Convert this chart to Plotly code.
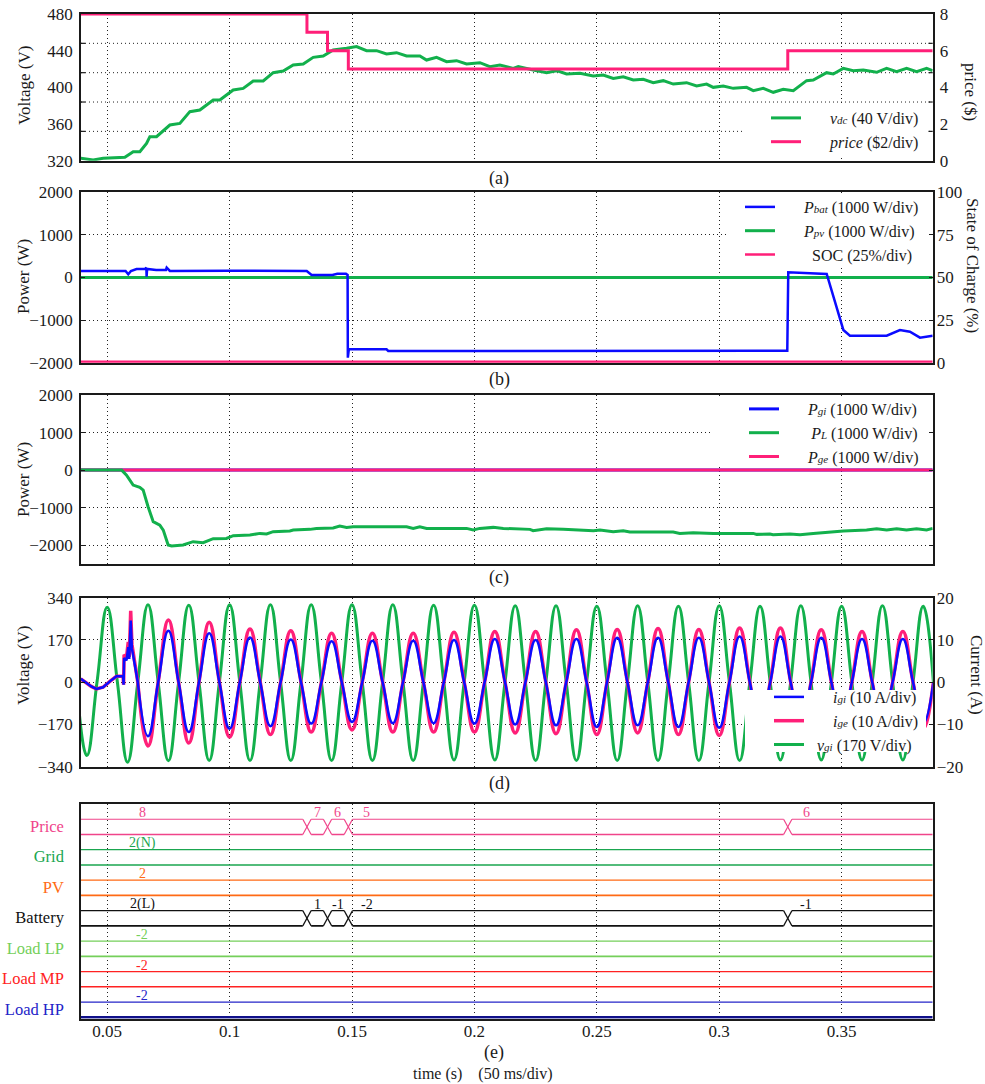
import plotly.graph_objects as go

# ---------------------------------------------------------------- data
T_MIN, T_MAX = 0.0393, 0.3872          # time window (s)

# (a) DC-link voltage (V) and electricity price ($)
vdc_t = [0.03924, 0.04428, 0.04837, 0.05722, 0.06062, 0.06334, 0.06607, 0.06743, 0.07015, 0.07560,
         0.07968, 0.08377, 0.08785, 0.09330, 0.09602, 0.10147, 0.10556, 0.10964, 0.11373, 0.11781,
         0.12190, 0.12598, 0.13007, 0.13415, 0.13824, 0.14232, 0.14777, 0.15185, 0.15594, 0.16002,
         0.16411, 0.16819, 0.17228, 0.17773, 0.18045, 0.18453, 0.18862, 0.19270, 0.19679, 0.20224,
         0.20632, 0.21041, 0.21587, 0.21791, 0.22404, 0.22948, 0.23357, 0.23765, 0.24310, 0.24855,
         0.25263, 0.25672, 0.26080, 0.26489, 0.26897, 0.27306, 0.27714, 0.28123, 0.28667, 0.29076,
         0.29484, 0.29757, 0.30165, 0.30574, 0.31118, 0.31391, 0.31799, 0.32208, 0.32616, 0.33025,
         0.33569, 0.33841, 0.34386, 0.34658, 0.35067, 0.35475, 0.35884, 0.36428, 0.36837, 0.37246,
         0.37654, 0.38063, 0.38471, 0.38716]
vdc = [322.6, 320.8, 322.6, 323.7, 329.8, 329.8, 338.9, 346.2, 346.2, 358.9,
       360.7, 373.5, 375.3, 386.2, 386.2, 397.1, 398.9, 406.9, 406.9, 416.0,
       417.8, 424.4, 425.5, 432.7, 434.2, 440.7, 442.6, 444.4, 440.0, 440.0,
       436.4, 437.8, 434.2, 434.2, 429.8, 432.7, 428.0, 429.1, 425.5, 426.9,
       422.6, 424.4, 420.7, 422.6, 418.9, 416.0, 418.2, 414.6, 415.3, 412.4,
       413.5, 409.8, 411.6, 408.0, 408.7, 405.1, 407.3, 403.6, 405.1, 401.5,
       403.6, 400.0, 401.5, 398.9, 400.0, 396.4, 398.9, 394.6, 397.8, 396.4,
       407.3, 408.0, 416.0, 414.6, 420.7, 418.2, 418.9, 416.4, 420.7, 417.1,
       420.7, 417.1, 420.7, 418.2]
price_t = [0.0393, 0.1316, 0.1400, 0.1485, 0.3280, 0.3872]
price = [8, 7, 6, 5, 6, 6]

# (b) battery and PV power (W), battery state of charge (%)
pbat_t = [0.0393, 0.0575, 0.0586, 0.0597, 0.0620, 0.0655, 0.0660, 0.0661, 0.0663, 0.0700,
          0.0740, 0.0743, 0.0750, 0.0756, 0.1000, 0.1300, 0.1315, 0.1335, 0.1420, 0.1440,
          0.1475, 0.1482, 0.1483, 0.1487, 0.1641, 0.1648, 0.2500, 0.3278, 0.3282, 0.3439,
          0.3507, 0.3534, 0.3684, 0.3738, 0.3779, 0.3820, 0.3872]
pbat = [153, 153, 75, 153, 200, 200, 230, 19, 200, 176,
        176, 230, 176, 153, 160, 153, 153, 59, 59, 90,
        90, 59, -1882, -1685, -1685, -1725, -1718, -1718, 122, 82,
        -1232, -1365, -1365, -1232, -1272, -1412, -1365]
ppv_t = [0.0393, 0.3872]
ppv = [0, 0]
soc_t = [0.0393, 0.3872]
soc = [0.6, 0.6]

# (c) grid-interface power, load power and grid-exchange power (W)
pgi_t = [0.0393, 0.3872]
pgi = [0, 0]
pge_t = [0.0393, 0.3872]
pge = [0, 0]
pl_t = [0.0392, 0.0559, 0.0579, 0.0606, 0.0633, 0.0647, 0.0667, 0.0688, 0.0715, 0.0729,
        0.0749, 0.0763, 0.0810, 0.0851, 0.0892, 0.0933, 0.0987, 0.1015, 0.1083, 0.1124,
        0.1151, 0.1178, 0.1246, 0.1260, 0.1328, 0.1355, 0.1423, 0.1450, 0.1478, 0.1505,
        0.1723, 0.1750, 0.1777, 0.1805, 0.1968, 0.1995, 0.2022, 0.2077, 0.2118, 0.2227,
        0.2240, 0.2295, 0.2363, 0.2486, 0.2513, 0.2567, 0.2608, 0.2635, 0.2812, 0.2839,
        0.2894, 0.2976, 0.3139, 0.3153, 0.3207, 0.3220, 0.3289, 0.3330, 0.3384, 0.3439,
        0.3507, 0.3602, 0.3643, 0.3684, 0.3725, 0.3765, 0.3806, 0.3847, 0.3872]
pl = [0, 0, -133, -399, -461, -532, -975, -1374, -1463, -1596,
      -1995, -2022, -1995, -1906, -1933, -1827, -1818, -1747, -1729, -1685,
      -1702, -1640, -1623, -1596, -1578, -1552, -1543, -1490, -1525, -1507,
      -1507, -1552, -1507, -1552, -1552, -1596, -1552, -1525, -1552, -1578,
      -1614, -1561, -1578, -1614, -1596, -1640, -1614, -1649, -1649, -1685,
      -1667, -1685, -1685, -1711, -1702, -1720, -1702, -1720, -1685, -1649,
      -1623, -1596, -1561, -1596, -1561, -1596, -1561, -1596, -1552]

# (d) grid voltage (V) and currents (A): peaks, troughs and zero crossings
wave_t = [0.0375, 0.04167, 0.04583, 0.05, 0.05417, 0.05833, 0.0625, 0.06667, 0.07083, 0.075,
          0.07917, 0.08333, 0.0875, 0.09167, 0.09583, 0.1, 0.10417, 0.10833, 0.1125, 0.11667,
          0.12083, 0.125, 0.12917, 0.13333, 0.1375, 0.14167, 0.14583, 0.15, 0.15417, 0.15833,
          0.1625, 0.16667, 0.17083, 0.175, 0.17917, 0.18333, 0.1875, 0.19167, 0.19583, 0.2,
          0.20417, 0.20833, 0.2125, 0.21667, 0.22083, 0.225, 0.22917, 0.23333, 0.2375, 0.24167,
          0.24583, 0.25, 0.25417, 0.25833, 0.2625, 0.26667, 0.27083, 0.275, 0.27917, 0.28333,
          0.2875, 0.29167, 0.29583, 0.3, 0.30417, 0.30833, 0.3125, 0.31667, 0.32083, 0.325,
          0.32917, 0.33333, 0.3375, 0.34167, 0.34583, 0.35, 0.35417, 0.35833, 0.3625, 0.36667,
          0.37083, 0.375, 0.37917, 0.38333, 0.3875]
vgi = [0, -295, 0, 302, 0, -322, 0, 312, 0, -316,
       0, 310, 0, -315, 0, 312, 0, -315, 0, 312,
       0, -315, 0, 312, 0, -315, 0, 312, 0, -315,
       0, 312, 0, -315, 0, 310, 0, -313, 0, 310,
       0, -313, 0, 308, 0, -315, 0, 308, 0, -315,
       0, 306, 0, -315, 0, 308, 0, -315, 0, 306,
       0, -315, 0, 308, 0, -315, 0, 306, 0, -313,
       0, 308, 0, -313, 0, 306, 0, -313, 0, 308,
       0, -313, 0, 306, 0]
igi = [None, None, None, None, None, None, 0, -12.8, 0, 12.2,
       0, -11.8, 0, 11.6, 0, -11.0, 0, 10.6, 0, -10.4,
       0, 10.1, 0, -9.8, 0, 9.7, 0, -9.4, 0, 9.8,
       0, -9.7, 0, 9.8, 0, -9.7, 0, 10.0, 0, -9.8,
       0, 10.2, 0, -10.0, 0, 10.0, 0, -10.2, 0, 10.2,
       0, -10.6, 0, 10.5, 0, -10.2, 0, 10.5, 0, -10.6,
       0, 10.5, 0, -10.8, 0, 10.8, 0, -10.5, 0, 10.8,
       0, -10.5, 0, 10.5, 0, -10.3, 0, 10.2, 0, -10.0,
       0, 10.2, 0, -9.8, 0]
ige = [None, None, None, None, None, None, 0, -15.1, 0, 14.7,
       0, -14.4, 0, 14.2, 0, -13.0, 0, 12.6, 0, -12.4,
       0, 12.2, 0, -11.8, 0, 11.6, 0, -11.3, 0, 11.6,
       0, -11.8, 0, 11.6, 0, -11.8, 0, 11.8, 0, -11.8,
       0, 12.0, 0, -12.0, 0, 12.0, 0, -12.2, 0, 12.4,
       0, -12.4, 0, 12.5, 0, -12.0, 0, 12.7, 0, -12.4,
       0, 12.5, 0, -12.6, 0, 12.8, 0, -12.4, 0, 12.8,
       0, -12.4, 0, 12.4, 0, -12.2, 0, 12.0, 0, -11.8,
       0, 12.0, 0, -11.0, 0]
# start-up transient of the currents before regular cycling
i_start_t = [0.0392, 0.0435, 0.0456, 0.0483, 0.0511, 0.0538, 0.0565, 0.0567, 0.0569, 0.0579,
             0.0586, 0.0590, 0.0596, 0.0601, 0.0625]
igi_start = [0.8, -1.0, -1.6, -1.2, 0.2, 1.4, 1.4, -0.6, 5.7, 5.2, 8.3, 5.5, 14.6, 8.0, 0.0]
ige_start = [0.8, -1.0, -1.6, -1.2, 0.2, 1.4, 1.4, -0.6, 6.5, 6.0, 9.5, 6.0, 16.9, 9.0, 0.0]

# (e) operating states of each agent
state_rows = ["Price", "Grid", "PV", "Battery", "Load LP", "Load MP", "Load HP"]
battery_mode = ["2(L)", "1", "-1", "-2", "-1"]
grid_mode = ["2(N)"]
pv_mode = ["2"]
load_lp_mode = ["-2"]
load_mp_mode = ["-2"]
load_hp_mode = ["-2"]

# ---------------------------------------------------------------- style
W, H = 985, 1084
FONT = "Liberation Serif"
INK = "#1a1a1a"
GRID = "#222222"
PINK = "#ff1f78"
GREEN = "#12b04c"
BLUE = "#0b0bff"
TF = dict(family=FONT, size=17, color=INK)
DOTS = "1px,3px"


def fx(px):
    return px / W


def fy(py):
    return 1 - py / H


def sym(base, sub):
    """Italic symbol with a small index kept on the text line."""
    return f"<i>{base}<span style='font-size:11px'>{sub}</span></i>"


X_DOM = [fx(81), fx(932.7)]
PANELS = {"a": (14, 160.7), "b": (192.3, 362.7), "c": (395, 564),
          "d": (597.7, 766.7), "e": (804, 1018.8)}


def ydom(k):
    top, bot = PANELS[k]
    return [fy(bot), fy(top)]


fig = go.Figure()


def add_line(x, y, color, width, xa, ya, name=None, legend="legend", rank=None,
             shape="linear", group=None, show=None):
    ln = dict(color=color, width=width, shape=shape)
    if shape == "spline":
        ln["smoothing"] = 1.3
    fig.add_trace(go.Scatter(
        x=x, y=y, mode="lines", line=ln, xaxis=xa, yaxis=ya,
        name=name, legend=legend, legendrank=rank if rank else 1000,
        legendgroup=group, showlegend=(name is not None) if show is None else show,
        hoverinfo="skip"))


PAD = "\u2003\u2002"

# (a)
add_line(vdc_t, vdc, GREEN, 3, "x", "y", PAD + sym("v", "dc") + " (40 V/div)", "legend", 1)
add_line(price_t, price, PINK, 3, "x", "y2", PAD + "<i>price</i> ($2/div)", "legend", 2, shape="hv")

# (b)
add_line(ppv_t, ppv, GREEN, 3, "x2", "y4", PAD + sym("P", "pv") + " (1000 W/div)", "legend2", 2)
add_line(pbat_t, pbat, BLUE, 2.5, "x2", "y4", PAD + sym("P", "bat") + " (1000 W/div)", "legend2", 1)
add_line(soc_t, soc, PINK, 2.5, "x2", "y5", PAD + "\u2002SOC (25%/div)", "legend2", 3)

# (c)
add_line(pgi_t, pgi, BLUE, 3, "x3", "y6", PAD + sym("P", "gi") + " (1000 W/div)", "legend3", 1)
add_line(pge_t, pge, PINK, 3, "x3", "y6", PAD + sym("P", "ge") + " (1000 W/div)", "legend3", 3)
add_line(pl_t, pl, GREEN, 3, "x3", "y6", PAD + "\u2009" + sym("P", "L") + " (1000 W/div)", "legend3", 2)

# (d)
add_line(wave_t, vgi, GREEN, 3, "x4", "y7", "\u2002" + sym("v", "gi") + " (170 V/div)", "legend4", 3,
         shape="spline")
add_line(i_start_t, ige_start, PINK, 3.5, "x4", "y8", None, group="ige")
add_line(wave_t, ige, PINK, 3.5, "x4", "y8", PAD + sym("i", "ge") + " (10 A/div)", "legend4", 2,
         shape="spline", group="ige")
add_line(i_start_t, igi_start, BLUE, 2.5, "x4", "y8", None, group="igi")
add_line(wave_t, igi, BLUE, 2.5, "x4", "y8", PAD + sym("i", "gi") + " (10 A/div)", "legend4", 1,
         shape="spline", group="igi")

# (e) state buses: two rails per row, crossing at every state change
X_HALF = 0.0017
BUS_H = 0.5
events = price_t[1:-1]
rows_e = [
    ("Price", "#f0448a", events, [str(p) for p in price[:-1]]),
    ("Grid", "#1aa64f", [], grid_mode),
    ("PV", "#ff6a14", [], pv_mode),
    ("Battery", "#111111", events, battery_mode),
    ("Load LP", "#74cf5a", [], load_lp_mode),
    ("Load MP", "#ff2222", [], load_mp_mode),
    ("Load HP", "#2424c8", [], load_hp_mode),
]
annotations = []
n_rows = len(rows_e)
for k, (label, color, trans, modes) in enumerate(rows_e):
    lo = n_rows - 1 - k
    hi = lo + BUS_H
    edges = [T_MIN] + [v for t in trans for v in (t - X_HALF, t + X_HALF)] + [T_MAX]
    ux, uy, lx, ly = [], [], [], []
    for s in range(0, len(edges), 2):
        ux += [edges[s], edges[s + 1], None]
        uy += [hi, hi, None]
        lx += [edges[s], edges[s + 1], None]
        ly += [lo, lo, None]
    cx, cy = [], []
    for t in trans:
        cx += [t - X_HALF, t + X_HALF, None, t - X_HALF, t + X_HALF, None]
        cy += [hi, lo, None, lo, hi, None]
    low_color = "#10108a" if label == "Load HP" else color
    add_line(ux, uy, color, 1.2, "x5", "y9")
    add_line(lx, ly, low_color, 2.6 if label == "Load HP" else 1.6, "x5", "y9")
    if cx:
        add_line(cx, cy, color, 1.2, "x5", "y9")
    starts = [T_MIN] + list(trans)
    ends = list(trans) + [T_MAX]
    for s, (a, b) in enumerate(zip(starts, ends)):
        xl = a + 0.025 if s == 0 else a + min(0.0075, (b - a) / 2)
        annotations.append(dict(text=modes[s], x=xl, y=hi, xref="x5", yref="y9",
                                xanchor="center", yanchor="bottom", yshift=-3, showarrow=False,
                                font=dict(family=FONT, size=14, color=color)))


# ---------------------------------------------------------------- axes
def xcfg(anchor, labels=False):
    return dict(domain=X_DOM, anchor=anchor, range=[T_MIN, T_MAX], tick0=0, dtick=0.05,
                showgrid=True, gridcolor=GRID, griddash=DOTS, gridwidth=1,
                zeroline=False, showline=True, linecolor=INK, linewidth=1.5, mirror=True,
                ticks="", showticklabels=labels, tickfont=TF, ticklabelstandoff=-4)


def ycfg(panel, anchor, rng, dtick=None, grid=True, **kw):
    d = dict(domain=ydom(panel), anchor=anchor, range=rng, showgrid=grid, gridcolor=GRID,
             griddash=DOTS, gridwidth=1, zeroline=False, showline=True, linecolor=INK,
             linewidth=1.5, mirror=True, ticks="inside", ticklen=4, tickcolor=INK,
             tickfont=TF, ticklabelstandoff=3)
    if dtick is not None:
        d["dtick"] = dtick
        d["tick0"] = 0
    d.update(kw)
    return d


def right_cfg(over, anchor, rng, dtick):
    return dict(overlaying=over, anchor=anchor, side="right", range=rng, dtick=dtick, tick0=0,
                showgrid=False, zeroline=False, showline=False, ticks="inside", ticklen=4,
                tickcolor=INK, tickfont=TF, ticklabelstandoff=3)


layout = dict(
    width=W, height=H, margin=dict(l=0, r=0, t=0, b=0), template="none",
    paper_bgcolor="white", plot_bgcolor="white", font=dict(family=FONT, color=INK),
    showlegend=True,
    xaxis=xcfg("y"), xaxis2=xcfg("y4"), xaxis3=xcfg("y6"), xaxis4=xcfg("y7"),
    xaxis5=xcfg("y9", labels=True),
    yaxis=ycfg("a", "x", [320, 480], grid=False, tickvals=[320, 360, 400, 440, 480], ticks=""),
    yaxis2=dict(overlaying="y", anchor="x", side="right", range=[0, 8], dtick=2, tick0=0,
                showgrid=False, zeroline=False, showline=False, ticks="", tickfont=TF,
                ticklabelstandoff=6),
    yaxis4=ycfg("b", "x2", [-2000, 2000], 1000),
    yaxis5=right_cfg("y4", "x2", [0, 100], 25),
    yaxis6=ycfg("c", "x3", [-2500, 2000], 1000, mirror="ticks"),
    yaxis7=ycfg("d", "x4", [-340, 340], 170),
    yaxis8=right_cfg("y7", "x4", [-20, 20], 10),
    yaxis9=dict(domain=ydom("e"), anchor="x5", range=[-0.05, n_rows], showgrid=False,
                zeroline=False, showline=True, linecolor=INK, linewidth=1.5, mirror=True,
                ticks="", tickfont=dict(family=FONT, size=16.5),
                tickvals=[n_rows - 1 - k + 0.27 for k in range(n_rows)],
                ticktext=[f"<span style='color:{c}'>{lab}</span>" for lab, c, _, _ in rows_e],
                ticklabelstandoff=12),
)

shapes = []
# (a) uses a five-division reference grid, independent of its value scales
for f in (0.2, 0.4, 0.6, 0.8):
    shapes.append(dict(type="line", xref="x domain", yref="y domain", x0=0, x1=1, y0=f, y1=f,
                       line=dict(color=GRID, width=1, dash=DOTS), layer="below"))
    for side in (0, 1):
        shapes.append(dict(type="line", xref="x domain", yref="y domain",
                           x0=side, x1=side + (0.005 if side == 0 else -0.005), y0=f, y1=f,
                           line=dict(color=INK, width=1.2), layer="above"))

# white panels behind each legend, kept inside the plot frame
LEGEND_BOXES = [(743, 104, 926, 157), (727, 196, 926, 266), (713, 399, 926, 465),
                (745, 690, 926, 752)]
for x0, y0, x1, y1 in LEGEND_BOXES:
    shapes.append(dict(type="rect", xref="paper", yref="paper", x0=fx(x0), x1=fx(x1),
                       y0=fy(y1), y1=fy(y0), fillcolor="white", line=dict(width=0),
                       layer="above"))
layout["shapes"] = shapes


def leg(right_px, mid_px):
    return dict(x=fx(right_px), xanchor="right", y=fy(mid_px), yanchor="middle",
                bgcolor="rgba(0,0,0,0)", borderwidth=0,
                font=dict(family=FONT, size=16, color=INK),
                itemwidth=30, tracegroupgap=0, traceorder="normal")


layout["legend"] = leg(924, 130)
layout["legend2"] = leg(924, 231)
layout["legend3"] = leg(924, 433)
layout["legend4"] = leg(924, 721)


def note(text, px, py, size=17, angle=0):
    annotations.append(dict(text=text, x=fx(px), y=fy(py), xref="paper", yref="paper",
                            showarrow=False, textangle=angle, xanchor="center",
                            yanchor="middle", font=dict(family=FONT, size=size, color=INK)))


note("Voltage (V)", 24, 86, angle=-90)
note("price ($)", 970, 92, angle=90)
note("Power (W)", 23, 277, angle=-90)
note("State of Charge (%)", 972, 265, angle=90)
note("Power (W)", 23, 480, angle=-90)
note("Voltage (V)", 23, 666, angle=-90)
note("Current (A)", 977, 675, angle=90)
note("(a)", 499, 178, size=18)
note("(b)", 499, 379, size=18)
note("(c)", 499, 577, size=18)
note("(d)", 499, 783, size=18)
note("(e)", 494, 1052, size=18)
note("time (s)\u2003(50 ms/div)", 483, 1074, size=16)

layout["annotations"] = annotations
fig.update_layout(**layout)
fig.write_html("out.html")
